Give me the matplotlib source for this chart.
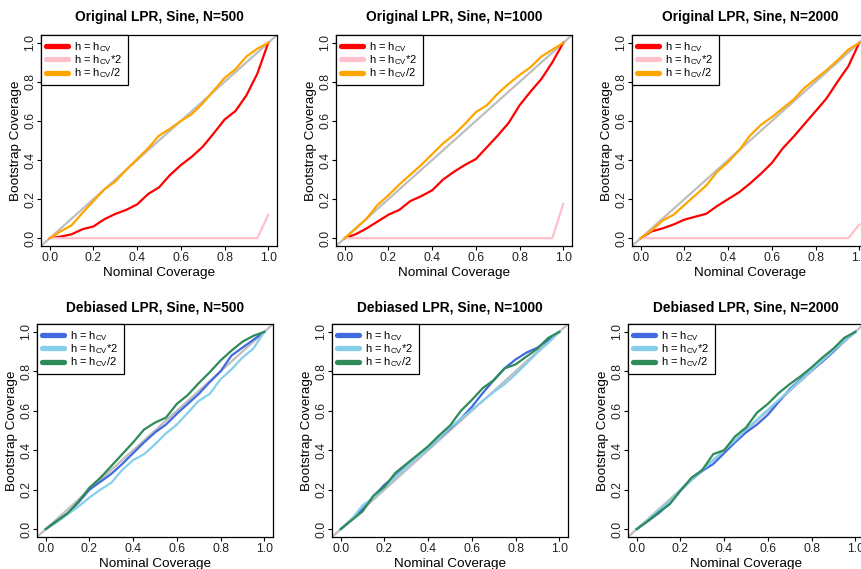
import numpy as np
import matplotlib
matplotlib.use("Agg")
import matplotlib.pyplot as plt

plt.rcParams['font.family'] = ['Liberation Sans', 'DejaVu Sans']
plt.rcParams['mathtext.fontset'] = 'custom'
plt.rcParams['mathtext.rm'] = 'Liberation Sans'
plt.rcParams['mathtext.it'] = 'Liberation Sans:italic'

# nominal coverage levels
nominal = np.round(np.arange(0, 1.0001, 0.05), 2)

# original LPR, bootstrap coverage by bandwidth
orig_cv = {
    500: [0, 0.008, 0.02, 0.046, 0.06, 0.097, 0.124, 0.145, 0.173, 0.226, 0.26,
          0.323, 0.374, 0.417, 0.468, 0.536, 0.607, 0.651, 0.731, 0.842, 1.0],
    1000: [0, 0.02, 0.05, 0.085, 0.12, 0.145, 0.19, 0.215, 0.245, 0.30, 0.34,
           0.375, 0.405, 0.465, 0.525, 0.59, 0.68, 0.75, 0.815, 0.90, 1.0],
    2000: [0, 0.035, 0.05, 0.07, 0.095, 0.11, 0.125, 0.165, 0.20, 0.235, 0.28,
           0.33, 0.385, 0.46, 0.52, 0.585, 0.65, 0.715, 0.80, 0.88, 1.0],
}
orig_cv2 = {
    500: [0] * 20 + [0.12],
    1000: [0] * 20 + [0.175],
    2000: [0] * 20 + [0.07],
}
orig_cvhalf = {
    500: [0, 0.035, 0.066, 0.13, 0.19, 0.25, 0.29, 0.35, 0.405, 0.46, 0.525,
          0.56, 0.60, 0.635, 0.69, 0.755, 0.82, 0.865, 0.93, 0.97, 1.0],
    1000: [0, 0.05, 0.10, 0.17, 0.22, 0.275, 0.325, 0.375, 0.43, 0.485, 0.53,
           0.585, 0.645, 0.68, 0.74, 0.79, 0.835, 0.875, 0.93, 0.965, 1.0],
    2000: [0, 0.04, 0.09, 0.12, 0.17, 0.22, 0.27, 0.34, 0.39, 0.45, 0.525,
           0.58, 0.62, 0.665, 0.71, 0.77, 0.815, 0.86, 0.91, 0.965, 1.0],
}

# debiased LPR, bootstrap coverage by bandwidth
deb_cv = {
    500: [0, 0.04, 0.08, 0.135, 0.20, 0.24, 0.28, 0.33, 0.385, 0.44, 0.49,
          0.53, 0.585, 0.635, 0.685, 0.745, 0.80, 0.88, 0.92, 0.96, 1.0],
    1000: [0, 0.05, 0.10, 0.165, 0.225, 0.27, 0.32, 0.37, 0.41, 0.46, 0.51,
           0.56, 0.62, 0.69, 0.755, 0.815, 0.86, 0.895, 0.92, 0.96, 1.0],
    2000: [0, 0.04, 0.08, 0.13, 0.195, 0.25, 0.295, 0.33, 0.385, 0.44, 0.49,
           0.53, 0.58, 0.645, 0.71, 0.76, 0.805, 0.85, 0.90, 0.955, 1.0],
}
deb_cv2 = {
    500: [0, 0.035, 0.075, 0.115, 0.16, 0.20, 0.235, 0.30, 0.35, 0.38, 0.43,
          0.485, 0.53, 0.59, 0.65, 0.685, 0.76, 0.81, 0.87, 0.915, 1.0],
    1000: [0, 0.05, 0.12, 0.16, 0.21, 0.265, 0.315, 0.365, 0.41, 0.46, 0.515,
           0.56, 0.605, 0.65, 0.695, 0.735, 0.785, 0.84, 0.895, 0.945, 1.0],
    2000: [0, 0.045, 0.095, 0.14, 0.20, 0.25, 0.30, 0.35, 0.40, 0.45, 0.505,
           0.555, 0.605, 0.655, 0.705, 0.755, 0.805, 0.855, 0.905, 0.955, 1.0],
}
deb_cvhalf = {
    500: [0, 0.04, 0.08, 0.14, 0.21, 0.26, 0.32, 0.38, 0.44, 0.505, 0.54,
          0.565, 0.635, 0.68, 0.74, 0.795, 0.855, 0.905, 0.95, 0.98, 1.0],
    1000: [0, 0.045, 0.09, 0.17, 0.215, 0.285, 0.33, 0.375, 0.42, 0.475, 0.525,
           0.60, 0.655, 0.715, 0.755, 0.815, 0.835, 0.875, 0.915, 0.97, 1.0],
    2000: [0, 0.04, 0.085, 0.125, 0.195, 0.26, 0.30, 0.38, 0.40, 0.47, 0.515,
           0.59, 0.635, 0.69, 0.735, 0.775, 0.82, 0.87, 0.915, 0.97, 1.0],
}

sizes = [500, 1000, 2000]
labels = [r'h = h$_{\mathrm{CV}}$', r'h = h$_{\mathrm{CV}}$*2', r'h = h$_{\mathrm{CV}}$/2']
ticks = [0.0, 0.2, 0.4, 0.6, 0.8, 1.0]

W, H = 862, 569
fig = plt.figure(figsize=(W / 100, H / 100), dpi=100)


def box(x0, y0, w, h):
    # pixel box (top-left origin) -> figure fraction
    return [x0 / W, (H - y0 - h) / H, w / W, h / H]


# row name, series, colours, panel left edges, top edge, height, title gap (px)
rows = [
    ("Original LPR", [orig_cv, orig_cv2, orig_cvhalf], ['red', 'pink', 'orange'],
     [41, 336, 632], 35, 211, 18),
    ("Debiased LPR", [deb_cv, deb_cv2, deb_cvhalf], ['royalblue', 'skyblue', 'seagreen'],
     [37, 332, 628], 324, 213, 16),
]

for name, series, colors, xs, top, hgt, gap in rows:
    for x0, n in zip(xs, sizes):
        ax = fig.add_axes(box(x0, top, 236, hgt))
        ax.axline((0, 0), slope=1, color='#BEBEBE', lw=1.6, zorder=1)
        handles = []
        for s, c in zip(series, colors):
            ax.plot(nominal, s[n], color=c, lw=1.6, zorder=2)
            handles.append(plt.Line2D([], [], color=c, lw=3.8, solid_capstyle='round'))
        ax.set_xlim(-0.04, 1.04)
        ax.set_ylim(-0.04, 1.04)
        ax.set_xticks(ticks)
        ax.set_yticks(ticks)
        ax.set_xticklabels([f"{t:.1f}" for t in ticks])
        ax.set_yticklabels([f"{t:.1f}" for t in ticks], rotation=90, va='center')
        ax.tick_params(direction='out', length=2.8, width=0.8, labelsize=8.8,
                       labelcolor='#222222')
        ax.tick_params(axis='x', pad=1.5)
        ax.tick_params(axis='y', pad=0.5)
        for sp in ax.spines.values():
            sp.set_linewidth(0.9)
        ax.set_title(f"{name}, Sine, N={n}", fontsize=9.9, fontweight='bold',
                     y=1 + gap / hgt, va='center', pad=0)
        ax.set_xlabel("Nominal Coverage", fontsize=9.7)
        ax.set_ylabel("Bootstrap Coverage", fontsize=9.7)
        ax.xaxis.set_label_coords(0.5, -27 / hgt)
        ax.yaxis.set_label_coords(-25 / 236, 0.5)
        ax.xaxis.label.set_va('center')
        ax.yaxis.label.set_va('center')
        leg = ax.legend(handles, labels, loc='upper left', borderaxespad=0,
                        fancybox=False, framealpha=1, edgecolor='black',
                        fontsize=8.0, handlelength=1.95, handletextpad=0.6,
                        labelspacing=-0.05, borderpad=0.45)
        leg.get_frame().set_linewidth(0.9)

fig.savefig("out.png", dpi=100)
